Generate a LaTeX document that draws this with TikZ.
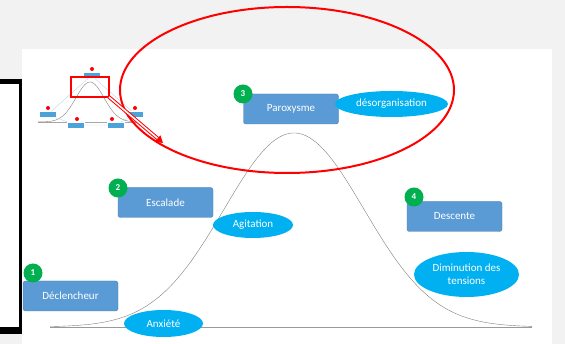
\documentclass[tikz,border=0pt]{standalone}
\usepackage{fontspec}
\setmainfont{Carlito}
\usetikzlibrary{%
    shapes.geometric,%
    arrows.meta
}
\definecolor{boxblue}{HTML}{5B9BD5}
\definecolor{ovalblue}{HTML}{00B0F0}
\definecolor{badgegreen}{HTML}{00B050}
\definecolor{pagegray}{HTML}{F2F2F2}
\definecolor{thumbblue}{HTML}{4BA3D9}
\definecolor{thumbline}{HTML}{BDD7EE}
\tikzset{
    phase/.style={draw=boxblue!80!black,fill=boxblue,rounded corners=2.5pt,text=white,
        minimum width=95pt,minimum height=30pt,font=\fontsize{11}{12}\selectfont},
    feel/.style={ellipse,fill=ovalblue,text=white,inner sep=0pt,align=center,
        font=\fontsize{11}{13}\selectfont},
    badge/.style={circle,fill=badgegreen,text=white,minimum size=19pt,inner sep=0pt,
        font=\bfseries\fontsize{9}{10}\selectfont},
    tbox/.style={fill=thumbblue,draw=white,very thin,minimum width=17pt,minimum height=6pt,inner sep=0pt},
    tdot/.style={circle,fill=red,inner sep=0pt,minimum size=4pt},
    tline/.style={thumbline,thin}
}
\begin{document}
\begin{tikzpicture}[x=1pt,y=-1pt]
\useasboundingbox (0,0) rectangle (565,344);
\fill[pagegray] (0,0) rectangle (565,344);
\fill[white] (22,49) rectangle (552,344);
% framed box on the left
\fill[black] (-1,79) rectangle (22,334);
\fill[white] (-1,84) rectangle (19,327);

% thumbnail
\draw[gray!70,thin] (38,122)--(140,122);
\draw[gray,thin] plot[domain=38:140,samples=60] (\x,{122-40*exp(-0.5*((\x-90)/14)^2)});
\node[tbox] (t1) at (47.5,114.5) {};
\node[tbox] (t2) at (75.5,125) {};
\node[tbox] (t3) at (115.5,125) {};
\node[tbox] (t4) at (135,114) {};
\node[tbox] (t5) at (91.5,75.5) {};
\draw[tline] (t1)--(t5) (t1)--(t2) (t2)--(t3) (t3)--(t4) (t4)--(t5);
\node[tdot] at (48,108) {};
\node[tdot] at (77,119) {};
\node[tdot] at (112,119) {};
\node[tdot] at (135,108) {};
\node[tdot] at (92,69) {};
\draw[red,line width=1.3pt] (71,77) rectangle (109,97);
\coordinate (zoomcorner) at (109,97);
\coordinate (zoomtip) at (163,143);

% curve
\draw[gray!80,semithick] (50,327)--(532,327);
\draw[gray,thin] plot[domain=50:532,samples=160] (\x,{327-194*exp(-0.5*((\x-294)/70)^2)});

\node[phase] (decl) at (70.5,296) {Déclencheur};
\node[phase] (esc) at (165.5,202.5) {Escalade};
\node[phase] (parox) at (291,109) {Paroxysme};
\node[phase] (desc) at (454.5,216.5) {Descente};

\node[badge] (b1) at (33,273) {1};
\node[badge] (b2) at (118,188) {2};
\node[badge] (b3) at (243,94) {3};
\node[badge] (b4) at (414,197) {4};

\node[feel,minimum width=79pt,minimum height=27pt] (anx) at (163.5,323.5) {Anxiété};
\node[feel,minimum width=80pt,minimum height=26pt] (agit) at (253,225) {Agitation};
\node[feel,minimum width=113pt,minimum height=26pt] (deso) at (391.5,104) {désorganisation};
\node[feel,minimum width=105pt,minimum height=45pt] (dimi) at (466.5,274.5) {Diminution des\\tensions};

% highlight
\draw[red,line width=2pt] (287,90) ellipse (167pt and 83pt);
\draw[red,double=white,double distance=1.6pt,line width=1pt,-{Triangle[length=7pt,width=8pt]}] (zoomcorner)--(zoomtip);
\end{tikzpicture}
\end{document}
